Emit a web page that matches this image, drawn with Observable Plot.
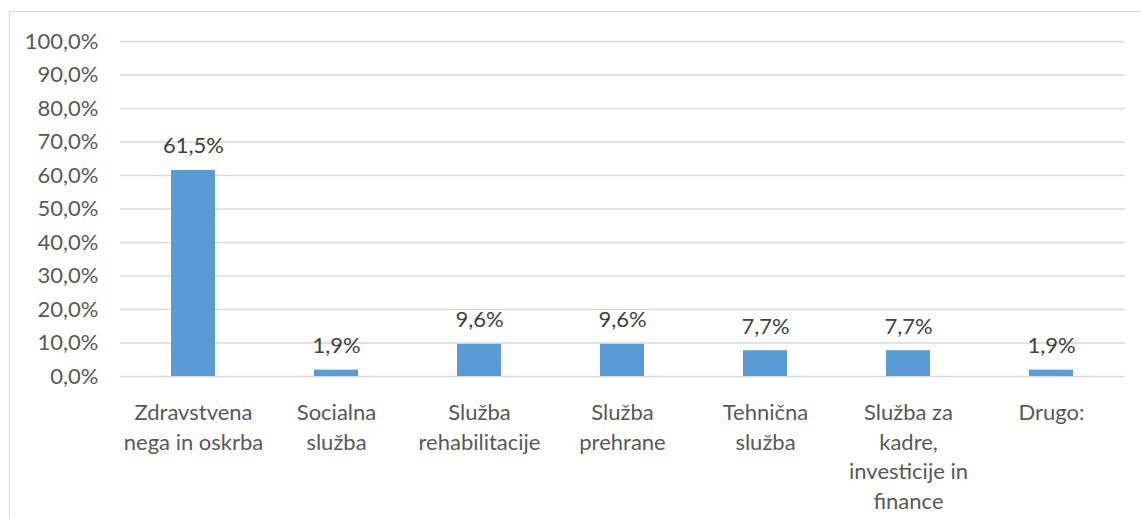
<!DOCTYPE html>
<html>
<head>
<meta charset="utf-8">
<script src="https://cdn.jsdelivr.net/npm/d3@7"></script>
<script src="https://cdn.jsdelivr.net/npm/@observablehq/plot@0.6"></script>
<style>
  html, body { margin: 0; padding: 0; background: #fff; overflow: hidden; }
  #wrap { position: relative; width: 1141px; height: 519px; }
  #frame { position: absolute; left: 9px; top: 11px; width: 1200px; height: 600px; border: 1.5px solid #d9d9d9; box-sizing: border-box; }
  #chart { position: absolute; left: 0; top: 0; }
</style>
</head>
<body>
<div id="wrap"><div id="frame"></div><div id="chart"></div></div>
<script>
const categories = [
  "Zdravstvena nega in oskrba",
  "Socialna služba",
  "Služba rehabilitacije",
  "Služba prehrane",
  "Tehnična služba",
  "Služba za kadre, investicije in finance",
  "Drugo:"
];
const tickLabels = [
  "Zdravstvena\nnega in oskrba",
  "Socialna\nslužba",
  "Služba\nrehabilitacije",
  "Služba\nprehrane",
  "Tehnična\nslužba",
  "Služba za\nkadre,\ninvesticije in\nfinance",
  "Drugo:"
];
const values = [61.5, 1.9, 9.6, 9.6, 7.7, 7.7, 1.9];
const yTicks = [0, 10, 20, 30, 40, 50, 60, 70, 80, 90, 100];

const data = categories.map((c, i) => ({category: c, value: values[i]}));
const labelOf = new Map(categories.map((c, i) => [c, tickLabels[i]]));
const fmt = (v, d) => v.toFixed(d).replace(".", ",") + "%";
const font = "Lato, 'Open Sans', sans-serif";

const chart = Plot.plot({
  width: 1141,
  height: 519,
  marginTop: 41,
  marginBottom: 143,
  marginLeft: 120,
  marginRight: 16,
  style: {fontFamily: font, background: "transparent"},
  x: {domain: categories, paddingInner: 0.69, paddingOuter: 0.345, label: null},
  y: {domain: [0, 100], label: null},
  marks: [
    Plot.ruleY(yTicks, {stroke: "#d9d9d9", strokeWidth: 1.5}),
    Plot.barY(data, {x: "category", y: "value", fill: "#5b9bd5"}),
    Plot.text(data, {
      x: "category", y: "value",
      text: d => fmt(d.value, 1),
      lineAnchor: "bottom", dy: -17,
      fontSize: 22, fill: "#404040"
    }),
    Plot.axisY({
      ticks: yTicks, tickSize: 0, tickPadding: 22,
      tickFormat: d => fmt(d, 1),
      fontSize: 22, color: "#595959", label: null
    }),
    Plot.axisX({
      tickSize: 0, tickPadding: 23,
      tickFormat: d => labelOf.get(d),
      fontSize: 22, lineHeight: 1.34, color: "#595959", label: null
    })
  ]
});
document.getElementById("chart").appendChild(chart);
</script>
</body>
</html>
